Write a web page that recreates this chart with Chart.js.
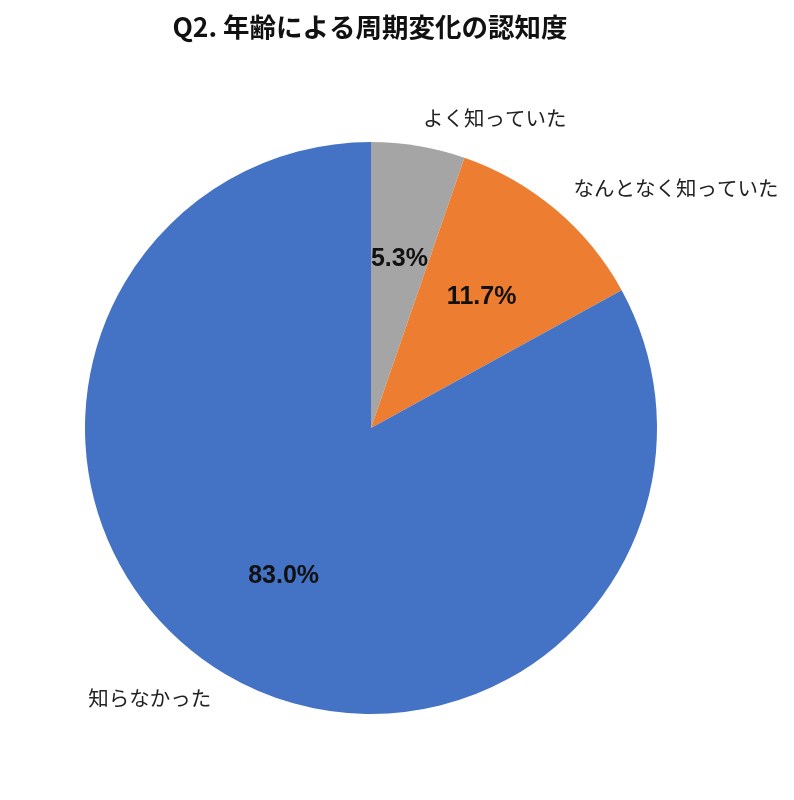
<!DOCTYPE html>
<html lang="ja">
<head>
  <meta charset="UTF-8" />
  <title>Q2. 年齢による周期変化の認知度</title>
  <script src="https://cdn.jsdelivr.net/npm/chart.js"></script>
  <style>
    body { margin: 0; background: #fff; }
    #wrap { width: 794px; height: 800px; position: relative; }
  </style>
</head>
<body>
  <div id="wrap"><canvas id="pieChart"></canvas></div>

  <script>
    const chartTitle = 'Q2. 年齢による周期変化の認知度';
    const categories = ['よく知っていた', 'なんとなく知っていた', '知らなかった'];
    const shares = [5.3, 11.7, 83.0];
    const sliceColors = ['#A5A5A5', '#ED7D31', '#4472C4'];

    const jpFont = '"Noto Sans CJK JP", "Noto Sans", sans-serif';

    // draws title, percentages inside and category names outside
    const labelPlugin = {
      id: 'pieLabels',
      afterDatasetsDraw(chart) {
        const c = chart.ctx;
        c.save();
        c.fillStyle = '#111';
        c.textAlign = 'center';
        c.textBaseline = 'middle';
        c.font = 'bold 26.5px ' + jpFont;
        c.fillText(chartTitle, 370, 27);

        chart.getDatasetMeta(0).data.forEach((arc, i) => {
          const p = arc.getProps(['x', 'y', 'startAngle', 'endAngle', 'outerRadius'], true);
          const mid = (p.startAngle + p.endAngle) / 2;
          const rIn = p.outerRadius * 0.6;
          c.font = 'bold 25px "Liberation Sans", Arial, sans-serif';
          c.textAlign = 'center';
          c.fillStyle = '#111';
          c.fillText(shares[i].toFixed(1) + '%', p.x + Math.cos(mid) * rIn, p.y + Math.sin(mid) * rIn);

          const rOut = p.outerRadius + 28;
          const ox = p.x + Math.cos(mid) * rOut;
          const oy = p.y + Math.sin(mid) * rOut;
          c.font = '20.5px ' + jpFont;
          c.fillStyle = '#222';
          c.textAlign = Math.cos(mid) >= 0 ? 'left' : 'right';
          c.fillText(categories[i], ox, oy);
        });
        c.restore();
      }
    };

    new Chart(document.getElementById('pieChart'), {
      type: 'pie',
      data: {
        labels: categories,
        datasets: [{
          data: shares,
          backgroundColor: sliceColors,
          borderWidth: 0
        }]
      },
      options: {
        responsive: true,
        maintainAspectRatio: false,
        animation: false,
        layout: { padding: { left: 85, right: 137, top: 142, bottom: 86 } },
        plugins: {
          legend: { display: false },
          tooltip: { enabled: false }
        }
      },
      plugins: [labelPlugin]
    });
  </script>
</body>
</html>
